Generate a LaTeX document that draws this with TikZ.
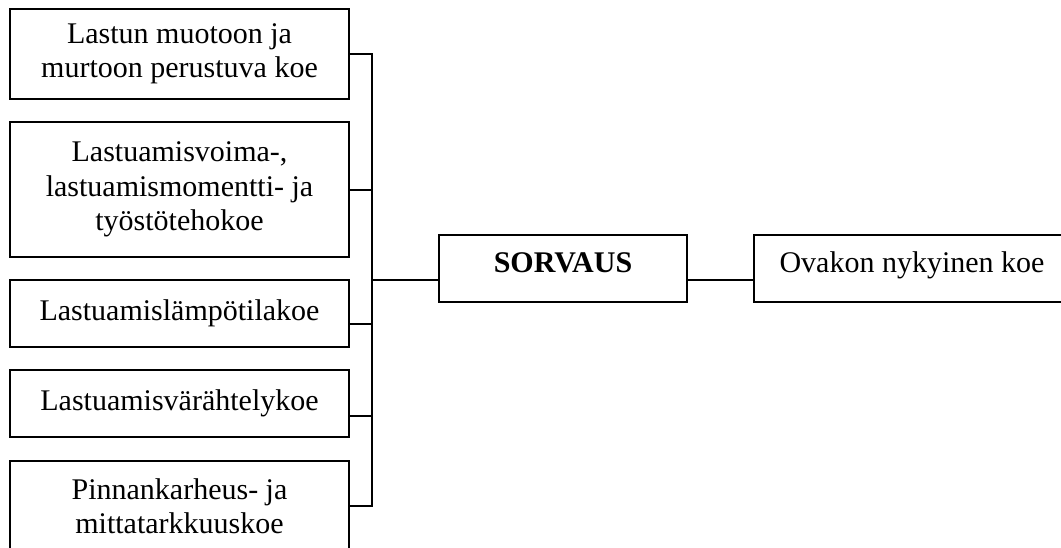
\documentclass[tikz,border=0pt]{standalone}
\usepackage{fontspec}
\setmainfont{Liberation Serif}
\begin{document}
\begin{tikzpicture}[x=1pt,y=-1pt,
  box/.style={draw, line width=1.8pt, rectangle, inner sep=0pt, outer sep=0pt,
    align=center, font=\fontsize{30}{34.5}\selectfont},
  conn/.style={line width=1.8pt}]
\useasboundingbox (0,0) rectangle (1061,548);
\clip (0,0) rectangle (1061,548);
\node[box, minimum width=339pt, minimum height=90pt] (b1) at (179.5,54)
  {Lastun muotoon ja\\murtoon perustuva koe};
\node[box, minimum width=339pt, minimum height=135pt] (b2) at (179.5,189.5)
  {Lastuamisvoima-,\\lastuamismomentti- ja\\työstötehokoe};
\node[box, minimum width=339pt, minimum height=67pt] (b3) at (179.5,313.5)
  {Lastuamislämpötilakoe};
\node[box, minimum width=339pt, minimum height=67pt] (b4) at (179.5,403.5)
  {Lastuamisvärähtelykoe};
\node[box, minimum width=339pt, minimum height=90pt] (b5) at (179.5,506)
  {Pinnankarheus- ja\\mittatarkkuuskoe};
\node[box, minimum width=248pt, minimum height=67pt, text height=20pt, text depth=11pt,
  font=\fontsize{30}{34.5}\selectfont\bfseries] (sv) at (563,268.5) {SORVAUS};
\node[box, minimum width=316pt, minimum height=67pt, text height=20pt, text depth=11pt]
  (ov) at (912,268.5) {Ovakon nykyinen koe};
\coordinate (bustop) at (372,54);
\coordinate (busbot) at (372,506);
\draw[conn] (b1.east) -- (bustop) -- (busbot) -- (b5.east);
\draw[conn] ([yshift=-0.5pt]b2.east) -- ([yshift=-0.5pt]b2.east -| bustop);
\draw[conn] ([yshift=-10.5pt]b3.east) -- ([yshift=-10.5pt]b3.east -| bustop);
\draw[conn] ([yshift=-12.5pt]b4.east) -- ([yshift=-12.5pt]b4.east -| bustop);
\draw[conn] ([yshift=-11.5pt]sv.west) -- ([yshift=-11.5pt]sv.west -| bustop);
\draw[conn] ([yshift=-11.5pt]sv.east) -- ([yshift=-11.5pt]ov.west);
\end{tikzpicture}
\end{document}
